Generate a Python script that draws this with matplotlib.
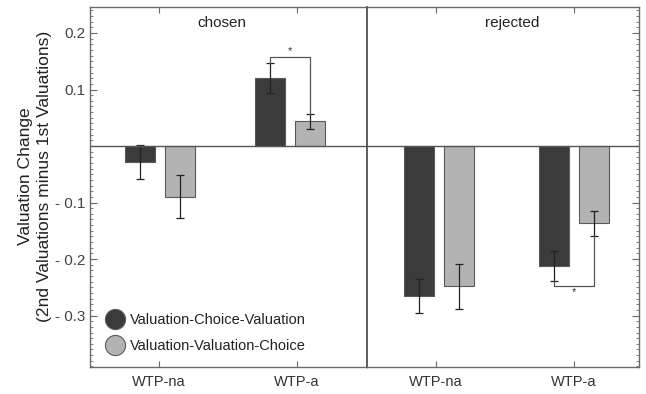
import matplotlib
matplotlib.use("Agg")
import matplotlib.pyplot as plt
from matplotlib.ticker import MultipleLocator, FixedLocator
from matplotlib.lines import Line2D

plt.rcParams['font.family'] = ['Liberation Sans', 'DejaVu Sans']

categories = ["WTP-na", "WTP-a"]
panels = ["chosen", "rejected"]
series = ["Valuation-Choice-Valuation", "Valuation-Valuation-Choice"]
vcv_chosen = [-0.028, 0.120]
vvc_chosen = [-0.090, 0.044]
vcv_rejected = [-0.266, -0.212]
vvc_rejected = [-0.248, -0.137]
vcv_chosen_err = [0.030, 0.027]
vvc_chosen_err = [0.038, 0.013]
vcv_rejected_err = [0.030, 0.026]
vvc_rejected_err = [0.040, 0.022]

dark = "#3b3b3b"
light = "#b3b3b3"
edge = "#5a5a5a"
axcol = "#6a6a6a"
txtcol = "#333333"

W, H = 646, 394
fig = plt.figure(figsize=(W/100, H/100), dpi=100)

def px_axes(x0, y0, x1, y1):
    return fig.add_axes([x0/W, 1 - y1/H, (x1-x0)/W, (y1-y0)/H])

ax1 = px_axes(90, 7, 367, 367)
ax2 = px_axes(367, 7, 639, 367)

data = {
    "chosen": (vcv_chosen, vvc_chosen, vcv_chosen_err, vvc_chosen_err),
    "rejected": (vcv_rejected, vvc_rejected, vcv_rejected_err, vvc_rejected_err),
}

# layout (not data): group shifts relative to tick, in data units
group_shift = {"chosen": [0.01, -0.05], "rejected": [0.02, 0.0]}
title_x = {"chosen": 0.477, "rejected": 0.533}

xpos = [1, 2]
off = 0.145
bw = 0.217
ylo, yhi = -0.391, 0.246

centers = {}
for ax, panel, wpx in [(ax1, "chosen", 277), (ax2, "rejected", 272)]:
    a, b, ea, eb = data[panel]
    xs = [x + s for x, s in zip(xpos, group_shift[panel])]
    xa = [x - off for x in xs]
    xb = [x + off for x in xs]
    centers[panel] = (xa, xb)
    ax.bar(xa, a, width=bw, color=dark, edgecolor=edge, linewidth=0.8, zorder=2)
    ax.bar(xb, b, width=bw, color=light, edgecolor=edge, linewidth=0.8, zorder=2)
    ax.errorbar(xa, a, yerr=ea, fmt='none', ecolor="#222222", elinewidth=0.9,
                capsize=3, capthick=0.9, zorder=3)
    ax.errorbar(xb, b, yerr=eb, fmt='none', ecolor="#222222", elinewidth=0.9,
                capsize=3, capthick=0.9, zorder=3)
    ax.axhline(0, color="#555555", linewidth=1.0, zorder=4)
    ax.set_xlim(0.5, 0.5 + wpx/138.0)
    ax.set_ylim(ylo, yhi)
    ax.set_xticks(xpos)
    ax.set_xticklabels(categories, fontsize=10.5, color=txtcol)
    ax.tick_params(axis='x', direction='in', top=True, bottom=True, length=4,
                   color=axcol, pad=6)
    for s in ax.spines.values():
        s.set_color(axcol)
        s.set_linewidth(1.0)
    ax.text(title_x[panel], 0.956, panel, transform=ax.transAxes, ha='center',
            va='center', fontsize=11, color="#222222")

ax1.yaxis.set_major_locator(FixedLocator([-0.3, -0.2, -0.1, 0.1, 0.2]))
ax1.set_yticklabels(["- 0.3", "- 0.2", "- 0.1", "0.1", "0.2"], fontsize=11, color="#444444")
ax1.yaxis.set_minor_locator(MultipleLocator(0.01))
ax1.tick_params(axis='y', which='major', direction='in', length=5, color=axcol,
                left=True, right=False, pad=3)
ax1.tick_params(axis='y', which='minor', direction='in', length=2.5, color=axcol,
                left=True, right=False)

ax2.yaxis.set_major_locator(FixedLocator([-0.3, -0.2, -0.1, 0.1, 0.2]))
ax2.yaxis.set_minor_locator(MultipleLocator(0.01))
ax2.tick_params(axis='y', which='major', direction='in', length=5, color=axcol,
                left=False, right=True, labelleft=False, labelright=False)
ax2.tick_params(axis='y', which='minor', direction='in', length=2.5, color=axcol,
                left=False, right=True)
ax2.spines['left'].set_linewidth(1.2)
ax2.spines['left'].set_color("#444444")

fig.text(35/W, 1 - 176/H, "Valuation Change\n(2nd Valuations minus 1st Valuations)",
         rotation=90, ha='center', va='center', fontsize=12.6, color="#222222",
         linespacing=1.3)

bc = "#555555"
a, b, ea, eb = data["chosen"]
xa, xb = centers["chosen"]
x_l, x_r = xa[1], xb[1]
top_l = a[1] + ea[1]
top_r = b[1] + eb[1]
yb = top_l + 0.0105
ax1.plot([x_l, x_l, x_r, x_r], [top_l, yb, yb, top_r], color=bc, lw=0.9, zorder=3)
ax1.text((x_l + x_r)/2, yb + 0.002, "*", ha='center', va='bottom', fontsize=8, color="#333333")

a, b, ea, eb = data["rejected"]
xa, xb = centers["rejected"]
x_l, x_r = xa[1], xb[1]
bot_l = a[1] - ea[1]
bot_r = b[1] - eb[1]
yb = bot_l - 0.009
ax2.plot([x_l, x_l, x_r, x_r], [bot_l, yb, yb, bot_r], color=bc, lw=0.9, zorder=3)
ax2.text((x_l + x_r)/2, yb - 0.003, "*", ha='center', va='top', fontsize=8, color="#333333")

handles = [
    Line2D([], [], marker='o', linestyle='none', markersize=14.5, markerfacecolor=dark,
           markeredgecolor=edge, markeredgewidth=0.8),
    Line2D([], [], marker='o', linestyle='none', markersize=14.5, markerfacecolor=light,
           markeredgecolor=edge, markeredgewidth=0.8),
]
ax1.legend(handles, series, loc='lower left', bbox_to_anchor=(0.0, 0.01),
           frameon=False, fontsize=10.5, handletextpad=0.05, labelspacing=0.85,
           borderaxespad=0.3, handlelength=2.0, labelcolor="#222222")

fig.savefig("out.png", dpi=100)
